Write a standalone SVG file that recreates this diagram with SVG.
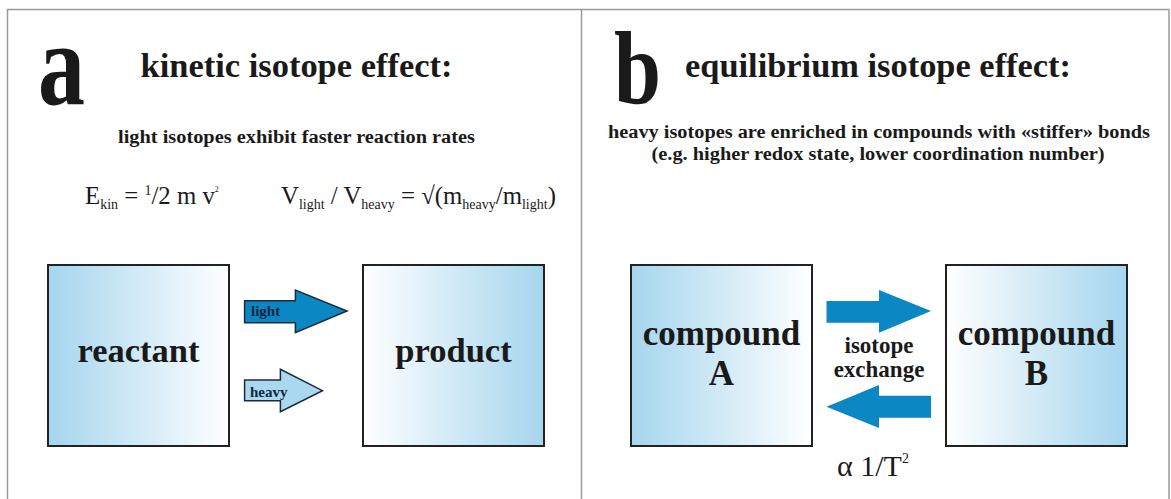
<svg xmlns="http://www.w3.org/2000/svg" width="1171" height="499" viewBox="0 0 1171 499">
<defs>
<linearGradient id="gL" x1="0" y1="0" x2="1" y2="0"><stop offset="0" stop-color="#a5d5ee"/><stop offset="1" stop-color="#ffffff"/></linearGradient>
<linearGradient id="gR" x1="0" y1="0" x2="1" y2="0"><stop offset="0" stop-color="#ffffff"/><stop offset="1" stop-color="#a5d5ee"/></linearGradient>
<style>
.frame{stroke:#9a9a9a;stroke-width:1.5;fill:none}
.box{stroke:#222;stroke-width:2}
.t{font-family:"Liberation Serif","Times New Roman",serif;fill:#1a1a1a}
.b{font-weight:bold}
.arrD{fill:#0b87c3;stroke:#1b2b3b;stroke-width:1.5;stroke-linejoin:miter}
.arrP{fill:#a9d8ef;stroke:#1b2b3b;stroke-width:1.5}
.arrB{fill:#0b87c3}
.lab{font-family:"Liberation Serif","Times New Roman",serif;font-weight:bold;fill:#10283f}
</style>
</defs>
<rect width="1171" height="499" fill="#fff"/>
<g id="frame">
<path class="frame" d="M7.5,499 V9.5 H1169 V499 M581.5,9.5 V499"/>
</g>
<g id="panel-a-header">
<text class="t b" x="38" y="104" font-size="118" textLength="47" lengthAdjust="spacingAndGlyphs">a</text>
<text class="t b" x="140.5" y="77" font-size="34" textLength="312" lengthAdjust="spacingAndGlyphs">kinetic isotope effect:</text>
<text class="t b" x="118" y="143" font-size="18.5" textLength="357" lengthAdjust="spacingAndGlyphs">light isotopes exhibit faster reaction rates</text>
<text class="t" x="85" y="204" font-size="24.8">E<tspan font-size="14" dy="5">kin</tspan><tspan dy="-5"> = </tspan><tspan font-size="14" dy="-9">1</tspan><tspan dy="9">/2 m v</tspan><tspan font-size="8" dy="-12">2</tspan></text>
<text class="t" x="281" y="204" font-size="24.8">V<tspan font-size="14" dy="5">light</tspan><tspan dy="-5"> / V</tspan><tspan font-size="14" dy="5">heavy</tspan><tspan dy="-5"> = √(m</tspan><tspan font-size="14" dy="5">heavy</tspan><tspan dy="-5">/m</tspan><tspan font-size="14" dy="5">light</tspan><tspan dy="-5">)</tspan></text>
</g>
<g id="panel-b-header">
<text class="t b" x="614" y="103" font-size="104" textLength="47" lengthAdjust="spacingAndGlyphs">b</text>
<text class="t b" x="685" y="77" font-size="34.5" textLength="386" lengthAdjust="spacingAndGlyphs">equilibrium isotope effect:</text>
<text class="t b" x="879" y="138" font-size="18.5" text-anchor="middle" textLength="542" lengthAdjust="spacingAndGlyphs">heavy isotopes are enriched in compounds with «stiffer» bonds</text>
<text class="t b" x="878" y="160" font-size="18.5" text-anchor="middle" textLength="453" lengthAdjust="spacingAndGlyphs">(e.g. higher redox state, lower coordination number)</text>
</g>
<g id="reactant">
<rect class="box" x="48" y="265" width="181" height="181" fill="url(#gL)"/>
<text class="t b" x="138.5" y="362" font-size="34.5" text-anchor="middle">reactant</text>
</g>
<g id="product">
<rect class="box" x="363" y="265" width="181" height="181" fill="url(#gR)"/>
<text class="t b" x="453.5" y="362" font-size="34.5" text-anchor="middle">product</text>
</g>
<g id="compoundA">
<rect class="box" x="631" y="265" width="181" height="181" fill="url(#gL)"/>
<text class="t b" x="721.5" y="345" font-size="35" text-anchor="middle">compound</text>
<text class="t b" x="721.5" y="385" font-size="35" text-anchor="middle">A</text>
</g>
<g id="compoundB">
<rect class="box" x="946" y="265" width="181" height="181" fill="url(#gR)"/>
<text class="t b" x="1036.5" y="345" font-size="35" text-anchor="middle">compound</text>
<text class="t b" x="1036.5" y="385" font-size="35" text-anchor="middle">B</text>
</g>
<g id="connectors">
<g id="arrow-light">
<polygon class="arrD" points="244.6,300.7 295.4,300.7 295.4,290 347,311 295.4,332.7 295.4,322.7 244.6,322.7"/>
<text class="lab" x="251" y="316" font-size="15">light</text>
</g>
<g id="arrow-heavy">
<polygon class="arrP" points="244.6,380 280.4,380 280.4,369.3 322.5,390.7 280.4,411.7 280.4,400.7 244.6,400.7"/>
<text class="lab" x="250" y="396.5" font-size="15">heavy</text>
</g>
<g id="arrow-forward">
<polygon class="arrB" points="826.5,301 879,301 879,290 931,311 879,332.7 879,322.7 826.5,322.7"/>
</g>
<g id="arrow-back">
<polygon class="arrB" points="931,395.7 879,395.7 879,385 826.5,406.7 879,428 879,417.7 931,417.7"/>
</g>
<text class="t b" x="879" y="353" font-size="23" text-anchor="middle">isotope</text>
<text class="t b" x="879" y="377" font-size="23" text-anchor="middle">exchange</text>
<text class="t" x="837" y="476" font-size="30">α 1/T<tspan font-size="14" dy="-13">2</tspan></text>
</g>
</svg>
